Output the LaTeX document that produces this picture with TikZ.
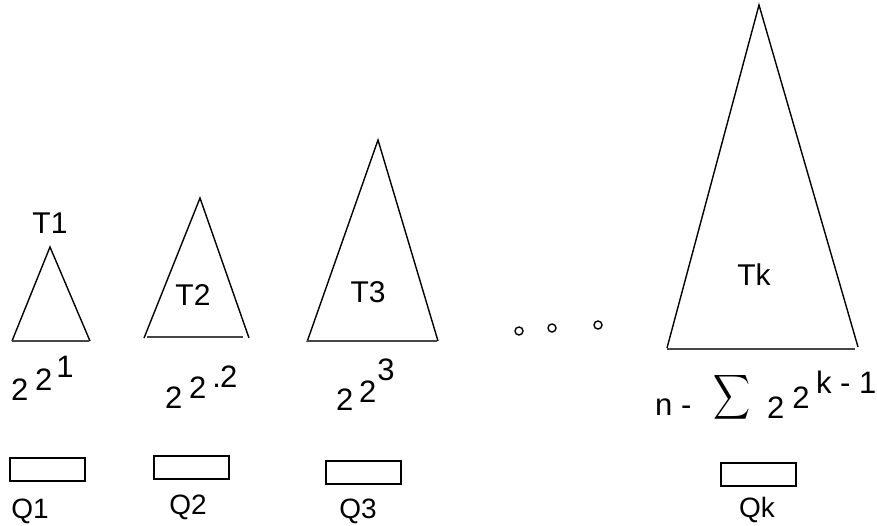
\documentclass[tikz,border=0pt]{standalone}
\usepackage{fontspec}
\setmainfont{Liberation Sans}
\usepackage{graphicx}
\usepackage{tikz}
\usetikzlibrary{positioning}
\definecolor{BaseGray}{RGB}{70,70,70}
\tikzset{
  side/.style={draw=black, line width=1.4pt, line join=miter},
  bottomline/.style={draw=BaseGray, line width=2pt},
  qbox/.style={draw=black, line width=1.8pt, minimum width=75pt,
    minimum height=23pt, inner sep=0pt},
  tname/.style={font=\fontsize{30}{32}\selectfont, anchor=base, inner sep=0pt},
  qname/.style={font=\fontsize{28}{30}\selectfont, anchor=base, inner sep=0pt},
  power/.style={font=\fontsize{31}{33}\selectfont, anchor=base west, inner sep=0pt},
  ring/.style={draw=black, circle, line width=1.4pt, minimum size=8pt, inner sep=0pt}
}

\begin{document}
\begin{tikzpicture}[x=1pt,y=-1pt]
  \useasboundingbox (0,0) rectangle (877,525);
  % trees
  \draw[side] (12,341) -- (50,247) -- (90,341);
  \draw[bottomline] (12,341) -- (89,341);
  \draw[side] (144,338) -- (200,198) -- (249,338);
  \draw[bottomline] (147,337) -- (243,337);
  \draw[side] (307,342) -- (378,140) -- (438,341);
  \draw[bottomline] (307,341) -- (437,341);
  \draw[side] (667,348) -- (759,5) -- (858,347);
  \draw[bottomline] (667,349) -- (855,349);
  \node[tname] (t1) at (50,233) {T1};
  \node[tname] (t2) at (193,305) {T2};
  \node[tname] (t3) at (368,302) {T3};
  \node[tname] (tk) at (754,285) {Tk};
  % dots
  \node[ring] (dot1) at (519,331) {};
  \node[ring] (dot2) at (552,328) {};
  \node[ring] (dot3) at (598,325) {};
  % sizes
  \node[power] (pow1) at (11,400) {2\kern6.8pt\raisebox{10pt}{2}\kern4pt\raisebox{23pt}{1}};
  \node[power] (pow2) at (165,408) {2\kern6.8pt\raisebox{10pt}{2}\kern6pt\raisebox{21pt}{.\kern-1pt 2}};
  \node[power] (pow3) at (336,410) {2\kern5.8pt\raisebox{8pt}{2}\kern0.8pt\raisebox{30pt}{3}};
  \node[power] (sumn) at (655,415) {n -};
  \node[inner sep=0pt] (sumsig) at (731.5,397) {\resizebox*{37pt}{50pt}{$\displaystyle\sum$}};
  \node[power] (sumexp) at (767,418) {2\kern7.8pt\raisebox{10pt}{2}\kern6.6pt\raisebox{25pt}{k - 1}};
  % queues
  \node[qbox] (q1) at (47.5,469.5) {};
  \node[qbox] (q2) at (191.5,467.5) {};
  \node[qbox] (q3) at (363.5,472.5) {};
  \node[qbox] (qk) at (758.5,474.5) {};
  \node[qname] (q1l) at (30,518) {Q1};
  \node[qname] (q2l) at (188,514) {Q2};
  \node[qname] (q3l) at (358,518) {Q3};
  \node[qname] (qkl) at (757,517) {Qk};
\end{tikzpicture}
\end{document}
